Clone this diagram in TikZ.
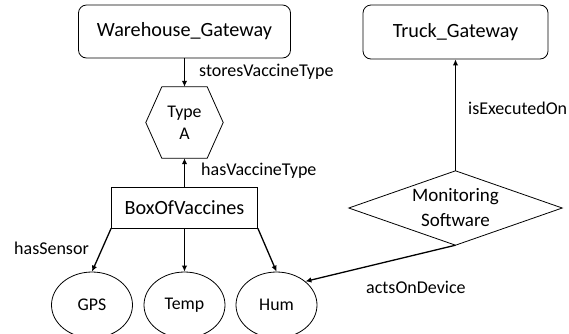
\documentclass[tikz,border=0pt]{standalone}
\usepackage{fontspec}
\setmainfont{Carlito}
\usetikzlibrary{arrows.meta,calc,shapes.geometric}
\begin{document}
\begin{tikzpicture}[x=1pt,y=-1pt,
  gw/.style={draw,rounded corners=8pt,line width=0.8pt,inner sep=0pt,font=\fontsize{20.2}{24}\selectfont},
  boxn/.style={draw,line width=0.8pt,inner sep=0pt,font=\fontsize{20.2}{24}\selectfont},
  sens/.style={draw,ellipse,line width=0.8pt,inner sep=0pt,minimum width=81pt,minimum height=66pt,font=\fontsize{17.8}{21}\selectfont},
  lbl/.style={anchor=west,inner sep=0pt,font=\fontsize{18}{21}\selectfont},
  conn/.style={line width=1.3pt,-{Latex[length=6pt,width=5.5pt]}},
  shapeline/.style={line width=0.8pt}
]
\useasboundingbox (0,0) rectangle (569,333);
% nodes
\node[gw,minimum width=212pt,minimum height=53pt] (wg) at (184.5,31.5) {Warehouse\_Gateway};
\node[gw,minimum width=185pt,minimum height=54pt] (tg) at (455.5,32) {Truck\_Gateway};
\node[inner sep=0pt,minimum width=77pt,minimum height=71pt,align=center,font=\fontsize{17.8}{22}\selectfont] (hex) at (184.5,122.5) {Type\\A};
\draw[shapeline] ($(hex.north west)+(16,0)$) -- ($(hex.north east)+(-16,0)$) -- (hex.east)
  -- ($(hex.south east)+(-16,0)$) -- ($(hex.south west)+(16,0)$) -- (hex.west) -- cycle;
\node[boxn,minimum width=146pt,minimum height=41pt] (box) at (184.5,207.5) {BoxOfVaccines};
\node[inner sep=0pt,minimum width=213pt,minimum height=74pt,align=center,font=\fontsize{19}{25}\selectfont] (ms) at (455.5,208) {Monitoring\\Software};
\draw[shapeline] (ms.north) -- (ms.east) -- (ms.south) -- (ms.west) -- cycle;
\node[sens] (gps) at (92,305) {GPS};
\node[sens] (temp) at (184.5,305) {Temp};
\node[sens] (hum) at (276.5,305) {Hum};
% connectors
\draw[conn] (wg.south) -- (hex.north);
\draw[conn] (box.north) -- (hex.south);
\draw[conn] (ms.north) -- (tg.south);
\draw[conn] (box.south west) -- (gps.north);
\draw[conn] (box.south) -- (temp.north);
\draw[conn] (box.south east) -- (hum.north);
\draw[conn] (ms.south) -- (hum.north east);
% labels
\node[lbl] (l1) at (199,72) {storesVaccineType};
\node[lbl] (l2) at (201,171) {hasVaccineType};
\node[lbl] (l3) at (468,108) {isExecutedOn};
\node[lbl] (l4) at (14,248) {hasSensor};
\node[lbl] (l5) at (366,287) {actsOnDevice};
\end{tikzpicture}
\end{document}
